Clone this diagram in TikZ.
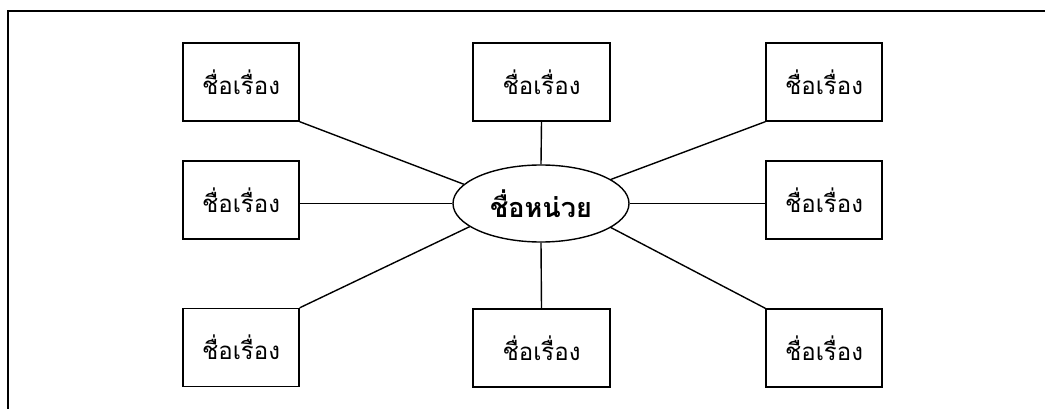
\documentclass[tikz,border=0pt]{standalone}
\usepackage{fontspec}
\newfontfamily\thaifont[Script=Thai]{Loma}
\usetikzlibrary{shapes.geometric}
\begin{document}
\begin{tikzpicture}[x=1pt,y=-1pt,
  topic/.style={draw,line width=1.4pt,minimum width=116pt,minimum height=78pt,inner sep=0pt,font=\thaifont\fontsize{24}{28}\selectfont},
  wtopic/.style={topic,minimum width=137pt},
  hub/.style={draw,ellipse,line width=1.4pt,minimum width=176pt,minimum height=77pt,inner sep=0pt,font=\thaifont\bfseries\fontsize{27}{32}\selectfont},
  link/.style={line width=1.4pt}]
\useasboundingbox (0,0) rectangle (1045,409);
\draw[line width=1.4pt] (8,409) -- (8,11) -- (1045,11);
\node[hub] (c) at (541,203.5) {ชื่อหน่วย};
\node[topic] (tl) at (241,82) {ชื่อเรื่อง};
\node[topic] (ml) at (241,200) {ชื่อเรื่อง};
\node[topic] (bl) at (241,347.5) {ชื่อเรื่อง};
\node[wtopic] (tc) at (541.5,82) {ชื่อเรื่อง};
\node[wtopic] (bc) at (541.5,348) {ชื่อเรื่อง};
\node[topic] (tr) at (824,82) {ชื่อเรื่อง};
\node[topic] (mr) at (824,200) {ชื่อเรื่อง};
\node[topic] (br) at (824,348) {ชื่อเรื่อง};
\draw[link] (tl.south east) -- (c.166);
\draw[link] (c.west) -- (c.west -| ml.east);
\draw[link] (bl.north east) -- (c.198);
\draw[link] (tc.south) -- (c.north);
\draw[link] (c.south) -- (bc.north);
\draw[link] (tr.south west) -- (c.19);
\draw[link] (c.east) -- (c.east -| mr.west);
\draw[link] (br.north west) -- (c.341);
\end{tikzpicture}
\end{document}
